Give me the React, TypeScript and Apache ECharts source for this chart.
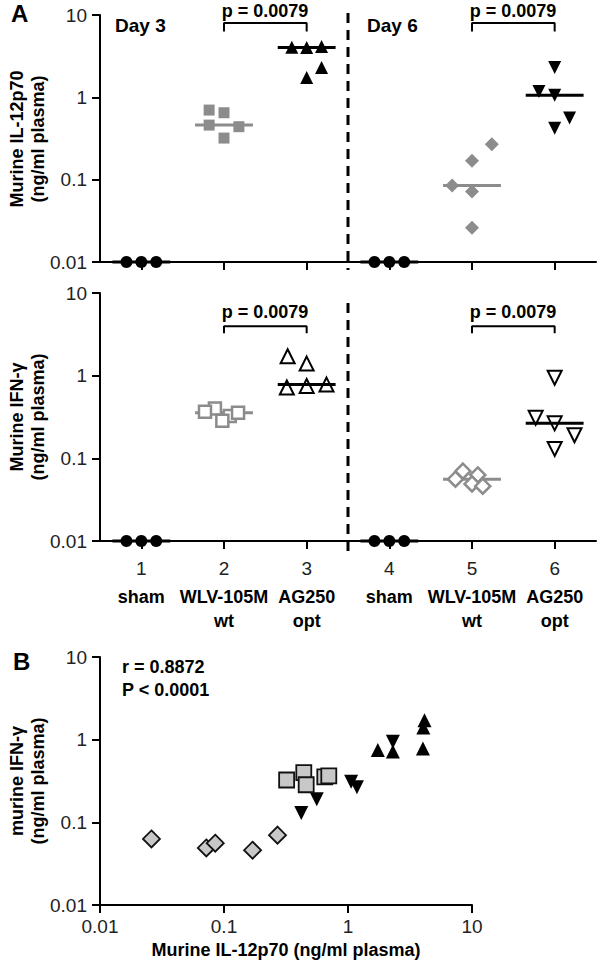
import React, { useEffect, useRef } from "react";
import * as echarts from "echarts";

// ---------- data ----------
const GROUP_X = [1, 2, 3, 4, 5, 6];
const CATEGORY_NAMES: [string, string][] = [
  ["sham", ""],
  ["WLV-105M", "wt"],
  ["AG250", "opt"],
  ["sham", ""],
  ["WLV-105M", "wt"],
  ["AG250", "opt"],
];

// IL-12p70 / IFN-γ (ng/ml plasma); sham values are below detection, shown at 0.01
const D3_SHAM_IL12 = [0.01, 0.01, 0.01];
const D3_SHAM_IFN = [0.01, 0.01, 0.01];
const D3_WT_IL12 = [0.32, 0.44, 0.46, 0.65, 0.7];
const D3_WT_IFN = [0.325, 0.4, 0.285, 0.355, 0.365];
const D3_OPT_IL12 = [1.74, 2.3, 4.02, 4.05, 4.14];
const D3_OPT_IFN = [0.75, 0.72, 0.78, 1.4, 1.72];
const D6_SHAM_IL12 = [0.01, 0.01, 0.01];
const D6_SHAM_IFN = [0.01, 0.01, 0.01];
const D6_WT_IL12 = [0.026, 0.072, 0.085, 0.17, 0.27];
const D6_WT_IFN = [0.063, 0.049, 0.056, 0.046, 0.07];
const D6_OPT_IL12 = [0.42, 0.56, 1.06, 1.18, 2.3];
const D6_OPT_IFN = [0.13, 0.19, 0.31, 0.265, 0.945];

const P_TEXT = "p = 0.0079";
const CORR_R = "r = 0.8872";
const CORR_P = "P < 0.0001";

// ---------- layout (column-scatter jitter, in category units) ----------
const JIT_SHAM = [-0.18, 0, 0.18];
const JIT_D3_WT_IL12 = [0, 0.18, -0.18, 0, -0.18];
const JIT_D3_WT_IFN = [0.07, -0.11, -0.02, 0.17, -0.23];
const JIT_D3_OPT_IL12 = [0, 0.18, 0, -0.18, 0.18];
const JIT_D3_OPT_IFN = [0, -0.24, 0.24, 0, -0.23];
const JIT_D6_WT_IL12 = [0, 0, -0.24, 0, 0.24];
const JIT_D6_WT_IFN = [0.07, 0, -0.2, 0.13, -0.11];
const JIT_D6_OPT_IL12 = [0, 0.18, 0, -0.19, 0];
const JIT_D6_OPT_IFN = [0, 0.24, -0.23, 0, 0];

const FONT = '"Liberation Sans", Arial, Helvetica, sans-serif';
const INK = "#000000";
const GREY = "#8c8c8c";
const LIGHT = "#c8c8c8";

type Kind = "sham" | "wtSq" | "optUp" | "wtDia" | "optDown";
const GROUPS: {
  x: number;
  il12: number[];
  ifn: number[];
  jIl12: number[];
  jIfn: number[];
  kind: Kind;
}[] = [
  { x: 1, il12: D3_SHAM_IL12, ifn: D3_SHAM_IFN, jIl12: JIT_SHAM, jIfn: JIT_SHAM, kind: "sham" },
  { x: 2, il12: D3_WT_IL12, ifn: D3_WT_IFN, jIl12: JIT_D3_WT_IL12, jIfn: JIT_D3_WT_IFN, kind: "wtSq" },
  { x: 3, il12: D3_OPT_IL12, ifn: D3_OPT_IFN, jIl12: JIT_D3_OPT_IL12, jIfn: JIT_D3_OPT_IFN, kind: "optUp" },
  { x: 4, il12: D6_SHAM_IL12, ifn: D6_SHAM_IFN, jIl12: JIT_SHAM, jIfn: JIT_SHAM, kind: "sham" },
  { x: 5, il12: D6_WT_IL12, ifn: D6_WT_IFN, jIl12: JIT_D6_WT_IL12, jIfn: JIT_D6_WT_IFN, kind: "wtDia" },
  { x: 6, il12: D6_OPT_IL12, ifn: D6_OPT_IFN, jIl12: JIT_D6_OPT_IL12, jIfn: JIT_D6_OPT_IFN, kind: "optDown" },
];

const STYLE: Record<Kind, { symbol: string; rot: number; color: string; sizeA: number; sizeB: number; bw: number }> = {
  sham: { symbol: "circle", rot: 0, color: INK, sizeA: 12, sizeB: 12, bw: 0 },
  wtSq: { symbol: "rect", rot: 0, color: GREY, sizeA: 11, sizeB: 15, bw: 2.5 },
  optUp: { symbol: "triangle", rot: 0, color: INK, sizeA: 13, sizeB: 14, bw: 2 },
  wtDia: { symbol: "diamond", rot: 0, color: GREY, sizeA: 14, sizeB: 17, bw: 2.5 },
  optDown: { symbol: "triangle", rot: 180, color: INK, sizeA: 13, sizeB: 14, bw: 2 },
};

const MEDIAN_HALF = 0.35;

function median(a: number[]) {
  const s = [...a].sort((p, q) => p - q);
  const m = Math.floor(s.length / 2);
  return s.length % 2 ? s[m] : (s[m - 1] + s[m]) / 2;
}

function fmtLog(v: number) {
  const n = Math.round(Math.log10(v));
  return n >= 0 ? String(Math.pow(10, n)) : Math.pow(10, n).toFixed(-n);
}

const axisLineStyle = { color: INK, width: 2 };
const TICK_FONT = 19;

function logAxis(gridIndex: number, extra: any = {}) {
  return {
    type: "log",
    logBase: 10,
    gridIndex,
    min: 0.01,
    max: 10,
    axisLine: { show: true, onZero: false, lineStyle: axisLineStyle },
    axisTick: { show: true, length: 8, lineStyle: axisLineStyle },
    axisLabel: { color: "#222", fontSize: TICK_FONT, fontFamily: FONT, margin: 13, formatter: fmtLog },
    splitLine: { show: false },
    minorTick: { show: false },
    minorSplitLine: { show: false },
    ...extra,
  };
}

function groupAxis(gridIndex: number, showLabels: boolean) {
  return {
    type: "value",
    gridIndex,
    min: 0.5,
    max: 6.5,
    axisLine: { show: true, onZero: false, lineStyle: axisLineStyle },
    axisTick: { show: true, length: 8, lineStyle: axisLineStyle, customValues: GROUP_X },
    axisLabel: showLabels
      ? {
          show: true,
          customValues: GROUP_X,
          margin: 10,
          color: INK,
          fontFamily: FONT,
          formatter: (v: number) => {
            const i = Math.round(v) - 1;
            const [a, b] = CATEGORY_NAMES[i];
            return `{n|${Math.round(v)}}\n{b|${a}}\n{b|${b || " "}}`;
          },
          rich: {
            n: { fontSize: TICK_FONT, lineHeight: 34, fontFamily: FONT, color: "#222" },
            b: { fontSize: 18, lineHeight: 24, fontWeight: "bold", fontFamily: FONT, color: INK },
          },
        }
      : { show: false },
    splitLine: { show: false },
  };
}

function buildOption() {
  const series: any[] = [];
  [0, 1].forEach((panel) => {
    GROUPS.forEach((g) => {
      const st = STYLE[g.kind];
      const vals = panel === 0 ? g.il12 : g.ifn;
      const jit = panel === 0 ? g.jIl12 : g.jIfn;
      const filled = panel === 0 || g.kind === "sham";
      series.push({
        type: "scatter",
        xAxisIndex: panel,
        yAxisIndex: panel,
        clip: false,
        symbol: st.symbol,
        symbolRotate: st.rot,
        symbolSize: filled ? st.sizeA : st.sizeA + 1,
        itemStyle: filled
          ? { color: st.color, opacity: 1 }
          : { color: "#ffffff", borderColor: st.color, borderWidth: st.bw, opacity: 1 },
        data: vals.map((v, i) => [g.x + jit[i], v]),
        z: 3,
      });
      const m = median(vals);
      const lineColor = g.kind === "wtSq" || g.kind === "wtDia" ? GREY : INK;
      series.push({
        type: "line",
        xAxisIndex: panel,
        yAxisIndex: panel,
        clip: false,
        symbol: "none",
        silent: true,
        lineStyle: { color: lineColor, width: 3 },
        data: [
          [g.x - MEDIAN_HALF, m],
          [g.x + MEDIAN_HALF, m],
        ],
        z: lineColor === GREY && panel === 1 ? 2 : 4,
      });
    });
    // significance brackets (wt vs opt on each day)
    const [lo, hi] = panel === 0 ? [6.3, 8.0] : [3.25, 3.95];
    [
      [2, 3],
      [5, 6],
    ].forEach(([a, b]) => {
      series.push({
        type: "line",
        xAxisIndex: panel,
        yAxisIndex: panel,
        clip: false,
        symbol: "none",
        silent: true,
        lineStyle: { color: INK, width: 2 },
        data: [
          [a, lo],
          [a, hi],
          [b, hi],
          [b, lo],
        ],
      });
    });
  });

  // panel B: correlation
  GROUPS.filter((g) => g.kind !== "sham").forEach((g) => {
    const st = STYLE[g.kind];
    const isGrey = g.kind === "wtSq" || g.kind === "wtDia";
    series.push({
      type: "scatter",
      xAxisIndex: 2,
      yAxisIndex: 2,
      clip: false,
      symbol: st.symbol,
      symbolRotate: st.rot,
      symbolSize: st.sizeB,
      itemStyle: isGrey
        ? { color: LIGHT, borderColor: "#111", borderWidth: 1.8, opacity: 1 }
        : { color: INK, opacity: 1 },
      data: g.il12.map((v, i) => [v, g.ifn[i]]),
      z: isGrey ? 4 : 3,
    });
  });

  const txt = (
    text: string,
    x: number,
    y: number,
    size: number,
    align = "left",
    weight = "bold"
  ) => ({
    type: "text",
    x,
    y,
    style: {
      text,
      fontSize: size,
      fontWeight: weight,
      fontFamily: FONT,
      fill: INK,
      align,
      verticalAlign: "middle",
    },
  });
  const rotTitle = (text: string, x: number, y: number) => ({
    type: "text",
    x,
    y,
    rotation: Math.PI / 2,
    style: {
      text,
      fontSize: 18,
      fontWeight: "bold",
      fontFamily: FONT,
      fill: INK,
      align: "center",
      verticalAlign: "middle",
      lineHeight: 21,
    },
  });

  const graphic: any[] = [
    txt("A", 11, 13, 24),
    txt("B", 13, 661, 24),
    txt("Day 3", 115, 25, 19),
    txt("Day 6", 367, 25, 19),
    txt(P_TEXT, 265, 11, 18, "center"),
    txt(P_TEXT, 513, 11, 18, "center"),
    txt(P_TEXT, 265, 312, 18, "center"),
    txt(P_TEXT, 513, 312, 18, "center"),
    txt(CORR_R, 122, 667, 18),
    txt(CORR_P, 122, 690, 18),
    rotTitle("Murine IL-12p70\n(ng/ml plasma)", 27, 139),
    rotTitle("Murine IFN-γ\n(ng/ml plasma)", 27, 417),
    rotTitle("murine IFN-γ\n(ng/ml plasma)", 27, 781),
    txt("Murine IL-12p70 (ng/ml plasma)", 286, 950, 18, "center"),
    {
      type: "line",
      shape: { x1: 348, y1: 13, x2: 348, y2: 270 },
      style: { stroke: INK, lineWidth: 3, lineDash: [10, 7] },
    },
    {
      type: "line",
      shape: { x1: 348, y1: 303, x2: 348, y2: 558 },
      style: { stroke: INK, lineWidth: 3, lineDash: [10, 7] },
    },
  ];

  return {
    animation: false,
    backgroundColor: "#ffffff",
    textStyle: { fontFamily: FONT },
    grid: [
      { left: 100, top: 15, width: 496, height: 247 },
      { left: 100, top: 293, width: 496, height: 248 },
      { left: 100, top: 657, width: 372, height: 248 },
    ],
    xAxis: [
      groupAxis(0, false),
      groupAxis(1, true),
      logAxis(2, { axisLabel: { color: "#222", fontSize: TICK_FONT, fontFamily: FONT, margin: 12, formatter: fmtLog } }),
    ],
    yAxis: [logAxis(0), logAxis(1), logAxis(2)],
    series,
    graphic,
  };
}

export default function App() {
  const ref = useRef<HTMLDivElement>(null);
  useEffect(() => {
    if (!ref.current) return;
    const chart = echarts.init(ref.current, undefined, { renderer: "svg" });
    chart.setOption(buildOption() as any);
    return () => chart.dispose();
  }, []);
  return (
    <div
      ref={ref}
      style={{ position: "absolute", left: 0, top: 0, width: 600, height: 963, background: "#fff" }}
    />
  );
}
